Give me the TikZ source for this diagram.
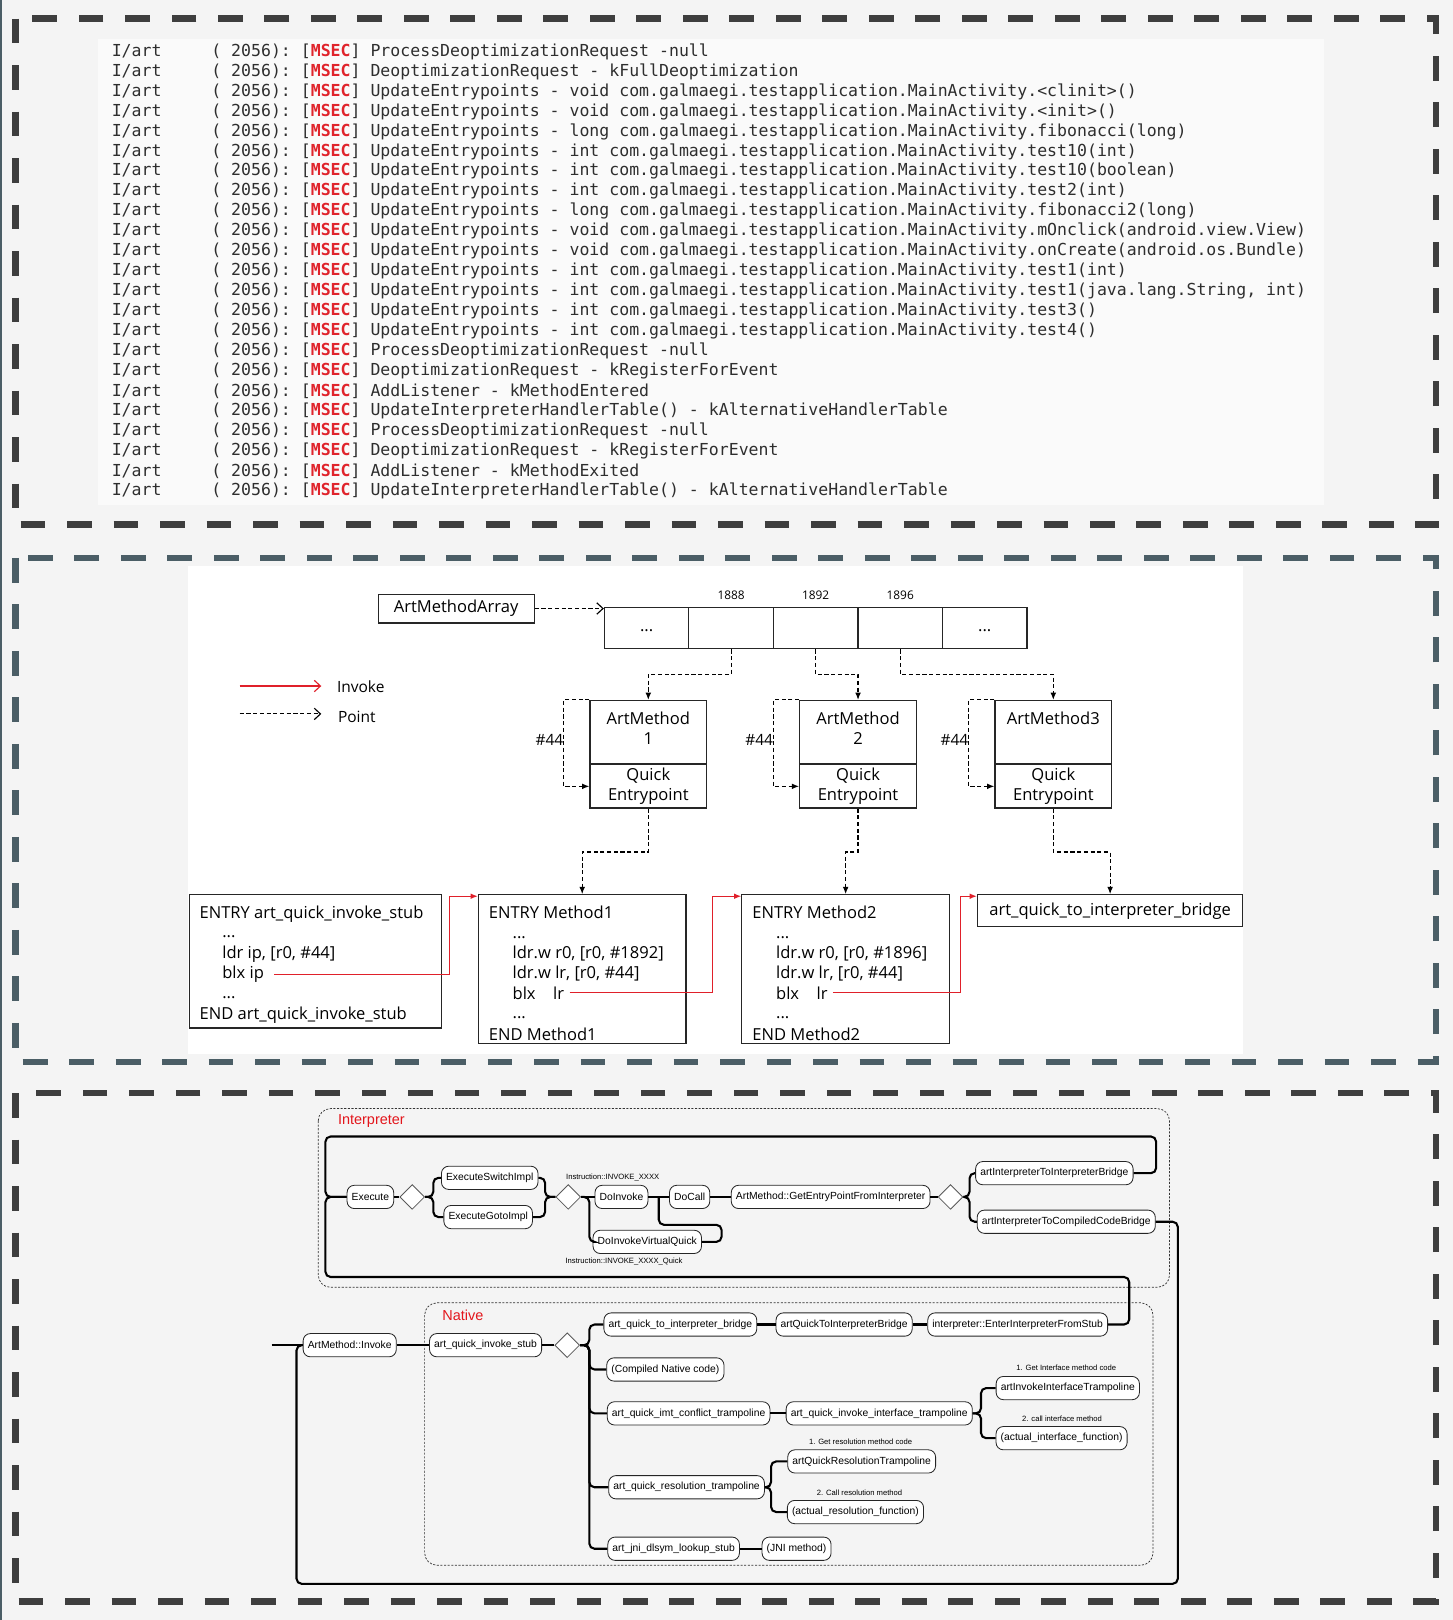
\documentclass[tikz,border=0pt]{standalone}
\usepackage{fontspec}
\setmainfont{Liberation Sans}
\setmonofont{DejaVu Sans Mono}
\newfontfamily\amfont{Open Sans}
\usetikzlibrary{arrows.meta,positioning,shapes.geometric,calc}
\definecolor{pagebg}{HTML}{F4F4F4}
\definecolor{codebg}{HTML}{FAFAFA}
\definecolor{darkdash}{HTML}{3E3E3E}
\definecolor{slatedash}{HTML}{4B5E66}
\definecolor{msec}{HTML}{E0242C}
\definecolor{logtext}{HTML}{2E2E2E}
\definecolor{invred}{HTML}{E0202A}
\definecolor{grpred}{HTML}{E3161C}
\tikzset{
  panel/.style={line width=6.5pt, dash pattern=on 24pt off 21pt},
  logline/.style={anchor=west, inner sep=0pt, text=logtext, font=\ttfamily\fontsize{16}{19}\selectfont},
  box/.style={draw=black!85, line width=1.1pt, inner sep=0pt, font=\amfont\fontsize{16}{20}\selectfont},
  amtext/.style={inner sep=0pt, align=center, font=\amfont\fontsize{16}{20}\selectfont},
  codeline/.style={anchor=base west, inner sep=0pt, font=\amfont\fontsize{16}{20}\selectfont},
  offset/.style={inner sep=0pt, font=\amfont\fontsize{11.5}{14}\selectfont},
  point/.style={draw=black, line width=1.1pt, dash pattern=on 4pt off 2.5pt, -{Latex[length=7pt,width=5.5pt]}},
  invoke/.style={draw=invred, line width=1.1pt, -{Latex[length=7pt,width=5.5pt]}},
  barb/.style={-{Straight Barb[length=6pt,width=11pt]}},
  pill/.style={draw=black!85, fill=white, line width=0.8pt, rounded corners=7pt, minimum height=22.5pt, inner xsep=4.5pt, inner ysep=0pt, font=\fontsize{10}{12}\selectfont},
  junc/.style={diamond, draw=black!65, fill=white, line width=0.8pt, minimum width=24pt, minimum height=24pt, inner sep=0pt},
  wire/.style={line width=2pt, rounded corners=5pt},
  group/.style={draw=black!80, line width=0.7pt, dash pattern=on 2pt off 1.5pt, rounded corners=12pt},
  grptitle/.style={anchor=west, inner sep=0pt, text=grpred, font=\fontsize{14}{16}\selectfont},
  note/.style={inner sep=0pt, font=\fontsize{7.4}{9}\selectfont},
}
\begin{document}
\begin{tikzpicture}[x=1pt,y=-1pt]
\useasboundingbox (0,0) rectangle (1406,1568);
\fill[pagebg] (0,0) rectangle (1406,1568);
\draw[slatedash, line width=2pt] (1,0) -- (1,1568);
\fill[codebg] (95,38) rectangle (1281,489);
\fill[white] (182,548) rectangle (1203,1020);
\draw[panel, darkdash] (15,18) rectangle (1390,508);
\draw[panel, slatedash] (15,540) rectangle (1390,1028);
\draw[panel, darkdash] (15,1058) rectangle (1390,1550);

\foreach \msg [count=\i] in {
  ProcessDeoptimizationRequest -null,
  DeoptimizationRequest - kFullDeoptimization,
  UpdateEntrypoints - void com.galmaegi.testapplication.MainActivity.<clinit>(),
  UpdateEntrypoints - void com.galmaegi.testapplication.MainActivity.<init>(),
  UpdateEntrypoints - long com.galmaegi.testapplication.MainActivity.fibonacci(long),
  UpdateEntrypoints - int com.galmaegi.testapplication.MainActivity.test10(int),
  UpdateEntrypoints - int com.galmaegi.testapplication.MainActivity.test10(boolean),
  UpdateEntrypoints - int com.galmaegi.testapplication.MainActivity.test2(int),
  UpdateEntrypoints - long com.galmaegi.testapplication.MainActivity.fibonacci2(long),
  UpdateEntrypoints - void com.galmaegi.testapplication.MainActivity.mOnclick(android.view.View),
  UpdateEntrypoints - void com.galmaegi.testapplication.MainActivity.onCreate(android.os.Bundle),
  UpdateEntrypoints - int com.galmaegi.testapplication.MainActivity.test1(int),
  {UpdateEntrypoints - int com.galmaegi.testapplication.MainActivity.test1(java.lang.String, int)},
  UpdateEntrypoints - int com.galmaegi.testapplication.MainActivity.test3(),
  UpdateEntrypoints - int com.galmaegi.testapplication.MainActivity.test4(),
  ProcessDeoptimizationRequest -null,
  DeoptimizationRequest - kRegisterForEvent,
  AddListener - kMethodEntered,
  UpdateInterpreterHandlerTable() - kAlternativeHandlerTable,
  ProcessDeoptimizationRequest -null,
  DeoptimizationRequest - kRegisterForEvent,
  AddListener - kMethodExited,
  UpdateInterpreterHandlerTable() - kAlternativeHandlerTable}
  \node[logline] (log\i) at (108,{50+(\i-1)*19.32}) {I/art\ \ \ \ \ ( 2056): [\textcolor{msec}{\bfseries MSEC}] \msg};

\node[box, minimum width=151pt, minimum height=28pt] (amarr) at (441.5,589) {ArtMethodArray};
\foreach \c/\cellt in {1/{...},2/{},3/{},4/{},5/{...}}
  \node[box, minimum width=81.8pt, minimum height=40pt] (c\c) at ({625.9+(\c-1)*81.8},608) {\raisebox{-6pt}{\cellt}};
\node[offset, above=7pt of c2] (o1888) {1888};
\node[offset, above=7pt of c3] (o1892) {1892};
\node[offset, above=7pt of c4] (o1896) {1896};
\draw[point, barb] (amarr.east) -- (amarr.east -| c1.west);

\foreach \k/\x/\nm in {1/627.5/{ArtMethod\\1},2/830.5/{ArtMethod\\2},3/1019.5/{ArtMethod3}} {
  \node[box, minimum width=113pt, minimum height=61pt] (am\k) at (\x,708.5) {};
  \node[amtext, anchor=north] (am\k t) at ([yshift=-11pt]am\k.north) {\nm};
  \node[box, minimum width=113pt, minimum height=42pt, anchor=north, align=center] (qe\k) at (am\k.south) {\raisebox{-2pt}{Quick}\\\raisebox{-2pt}{Entrypoint}};
  \draw[point] (am\k.north west) -- ++(-25,0) |- (qe\k.west);
  \node[amtext, anchor=east, font=\amfont\fontsize{15}{18}\selectfont] (off\k) at ([xshift=-25pt,yshift=-7.5pt]am\k.west) {\#44};
}
\draw[point] (c2.south) -- ++(0,24) -| (am1.north);
\draw[point] (c3.south) -- ++(0,24) -| (am2.north);
\draw[point] (c4.south) -- ++(0,24) -| (am3.north);

\node[box, minimum width=244pt, minimum height=129pt] (stub) at (305,930.5) {};
\node[box, minimum width=201pt, minimum height=144pt] (m1) at (563.5,938) {};
\node[box, minimum width=201pt, minimum height=144pt] (m2) at (818.5,938) {};
\node[box, minimum width=257pt, minimum height=31pt] (br) at (1074.5,881.5) {art\_quick\_to\_interpreter\_bridge};
\foreach \y/\x/\txt [count=\i] in {889/193/{ENTRY art\_quick\_invoke\_stub},907/215/{...},927.5/215/{ldr ip, [r0, \#44]},947/215/{blx ip},966/215/{...},987/193/{END art\_quick\_invoke\_stub}}
  \node[codeline] (s\i) at (\x,\y) {\txt};
\foreach \pre/\bx/\num/\nm in {p/473/1892/1,q/728/1896/2}
  \foreach \y/\dx/\txt [count=\i] in {889/0/{ENTRY Method\nm},908/23/{...},928/23/{ldr.w r0, [r0, \#\num]},947/23/{ldr.w lr, [r0, \#44]},967/23/{blx\hspace{17pt}lr},986/23/{...},1007/0/{END Method\nm}}
    \node[codeline] (\pre\i) at (\bx+\dx,\y) {\txt};
\draw[point] (qe1.south) -- ++(0,42) -| (m1.north);
\draw[point] (qe2.south) -- ++(0,42) -| (m2.north);
\draw[point] (qe3.south) -- ++(0,42) -| (br.north);
\draw[invoke] ([xshift=10pt]s4.east) -| ([xshift=-27pt,yshift=-2pt]m1.north west) -- ([yshift=-2pt]m1.north west);
\draw[invoke] ([xshift=5pt]p5.east) -| ([xshift=-28pt,yshift=-2pt]m2.north west) -- ([yshift=-2pt]m2.north west);
\draw[invoke] ([xshift=5pt]q5.east) -| ([xshift=-16pt,yshift=-2pt]br.north west) -- ([yshift=-2pt]br.north west);

\coordinate (invs) at (232,664);
\coordinate (inve) at (311,664);
\draw[invoke, barb] (invs) -- (inve);
\node[amtext, anchor=west, font=\amfont\fontsize{15}{18}\selectfont] (invk) at (326,665) {Invoke};
\coordinate (pnts) at (232,691);
\coordinate (pnte) at (311,691);
\draw[point, barb] (pnts) -- (pnte);
\node[amtext, anchor=west, font=\amfont\fontsize{15}{18}\selectfont] (pnt) at (327,694) {Point};

\draw[group] (308,1073) rectangle (1132,1246);
\node[grptitle] (tint) at (327,1085) {Interpreter};
\draw[group] (411,1261) rectangle (1116,1515);
\node[grptitle] (tnat) at (428,1273) {Native};

\node[pill] (ex) at (358.5,1158.5) {Execute};
\node[junc] (d1) at (399,1158.5) {};
\node[pill] (esw) at (474,1140) {ExecuteSwitchImpl};
\node[pill] (egi) at (472.5,1178) {ExecuteGotoImpl};
\node[junc] (d2) at (550,1158.5) {};
\node[note] (nx1) at (593,1140) {Instruction::INVOKE\_XXXX};
\node[pill] (di) at (601.5,1158.5) {DoInvoke};
\node[pill] (dc) at (667.5,1158.5) {DoCall};
\node[pill] (dvq) at (626.5,1202) {DoInvokeVirtualQuick};
\node[note] (nx2) at (604,1221) {Instruction::INVOKE\_XXXX\_Quick};
\node[pill] (gep) at (804,1158.5) {ArtMethod::GetEntryPointFromInterpreter};
\node[junc] (d3) at (920,1158.5) {};
\node[pill] (i2i) at (1020.5,1135.5) {artInterpreterToInterpreterBridge};
\node[pill] (i2c) at (1032,1182.5) {artInterpreterToCompiledCodeBridge};

\node[pill] (ami) at (338.5,1302) {ArtMethod::Invoke};
\node[pill] (qis) at (470,1302) {art\_quick\_invoke\_stub};
\node[junc] (d4) at (549,1302) {};
\node[pill] (q2ib) at (658.5,1282) {art\_quick\_to\_interpreter\_bridge};
\node[pill] (aq2ib) at (817,1282) {artQuickToInterpreterBridge};
\node[pill] (eifs) at (985,1282) {interpreter::EnterInterpreterFromStub};
\node[pill] (cnc) at (644,1325.5) {(Compiled Native code)};
\node[pill] (imt) at (666.5,1368) {art\_quick\_imt\_conflict\_trampoline};
\node[pill] (iit) at (851,1368) {art\_quick\_invoke\_interface\_trampoline};
\node[note] (ni1) at (1032,1324) {1. Get Interface method code};
\node[pill] (aiit) at (1033.5,1343.5) {artInvokeInterfaceTrampoline};
\node[note] (ni2) at (1028,1373) {2. call interface method};
\node[pill] (aif) at (1027.5,1392) {(actual\_interface\_function)};
\node[pill] (qrt) at (664.5,1439.5) {art\_quick\_resolution\_trampoline};
\node[note] (nr1) at (833,1395) {1. Get resolution method code};
\node[pill] (aqrt) at (834,1414.5) {artQuickResolutionTrampoline};
\node[note] (nr2) at (832,1445) {2. Call resolution method};
\node[pill] (arf) at (828,1463.5) {(actual\_resolution\_function)};
\node[pill] (jni) at (652,1499) {art\_jni\_dlsym\_lookup\_stub};
\node[pill] (jnm) at (771,1499) {(JNI method)};

\coordinate (lpne) at (1119,1100);
\coordinate (lpw) at (315,1100);
\coordinate (lpse) at (1093,1236);
\coordinate (lpo) at (1140,1533);
\coordinate (lpow) at (287,1533);
\coordinate (entry) at (263,1302);

\draw[wire] (ex.east) -- (d1.west);
\draw[wire] (d1.east) -- ++(8,0) |- (esw.west);
\draw[wire] (d1.east) -- ++(8,0) |- (egi.west);
\draw[wire] (esw.east) -| ([xshift=-10pt]d2.west) -- (d2.west);
\draw[wire] (egi.east) -| ([xshift=-10pt]d2.west) -- (d2.west);
\draw[wire] (d2.east) -- (di.west);
\draw[wire] (d2.east) -- ++(8,0) |- (dvq.west);
\draw[wire] (di.east) -- (dc.west);
\draw[wire] (dvq.east) -| ([xshift=11pt,yshift=-27pt]dc.east) -| ([xshift=-10pt]dc.west);
\draw[wire] (dc.east) -- (gep.west);
\draw[wire] (gep.east) -- (d3.west);
\draw[wire] (d3.east) -- ++(6,0) |- (i2i.west);
\draw[wire] (d3.east) -- ++(6,0) |- (i2c.west);
\draw[wire] (i2i.east) -| (lpne) -| (lpw |- ex.west) -- (ex.west);
\draw[wire] (eifs.east) -| (lpse) -| (lpw |- ex.west) -- (ex.west);
\draw[wire] (i2c.east) -| (lpo) -| (lpow |- ami.west) -- (ami.west);
\draw[wire] (entry) -- (ami.west);
\draw[wire] (ami.east) -- (qis.west);
\draw[wire] (qis.east) -- (d4.west);
\foreach \n in {q2ib,cnc,imt,qrt,jni}
  \draw[wire] (d4.east) -- ++(9,0) |- (\n.west);
\draw[wire] (q2ib.east) -- (aq2ib.west);
\draw[wire] (aq2ib.east) -- (eifs.west);
\draw[wire] (imt.east) -- (iit.west);
\draw[wire] (iit.east) -- ++(8,0) |- (aiit.west);
\draw[wire] (iit.east) -- ++(8,0) |- (aif.west);
\draw[wire] (qrt.east) -- ++(6,0) |- (aqrt.west);
\draw[wire] (qrt.east) -- ++(6,0) |- (arf.west);
\draw[wire] (jni.east) -- (jnm.west);
\end{tikzpicture}
\end{document}
